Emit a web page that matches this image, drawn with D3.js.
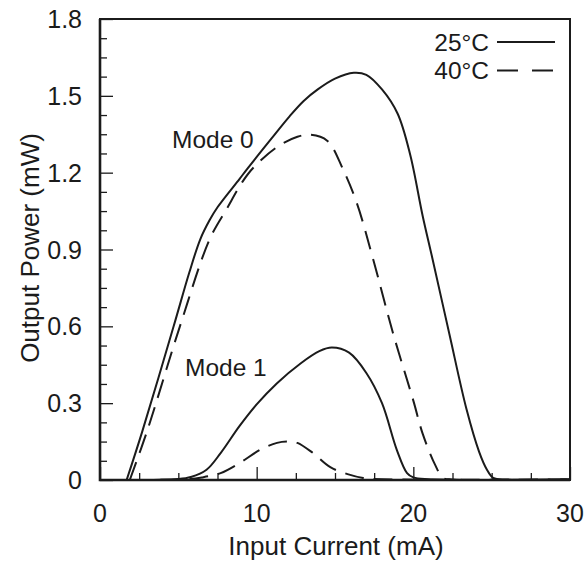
<!DOCTYPE html>
<html>
<head>
<meta charset="utf-8">
<script src="https://cdn.jsdelivr.net/npm/d3@7/dist/d3.min.js"></script>
<style>
  html, body { margin: 0; padding: 0; background: #fff; }
  svg { display: block; font-family: "Liberation Sans", Arial, Helvetica, sans-serif; }
</style>
</head>
<body>
<svg id="chart" width="585" height="562"></svg>
<script>
// Output power vs. input current for modes 0 and 1 at two temperatures
const mode0At25Current = [1.7, 2.7, 4.7, 5.7, 6.4, 7.0, 7.5, 8.9, 9.4, 10.9, 12.1, 13.0, 13.9, 15.0, 16.2, 17.0, 18.0, 19.0, 19.8, 20.6, 21.2, 22.3, 23.4, 24.2, 24.7, 25.1, 26.0, 30.0];
const mode0At25Power   = [0.0, 0.19, 0.6, 0.81, 0.94, 1.015, 1.065, 1.175, 1.215, 1.33, 1.42, 1.48, 1.525, 1.567, 1.59, 1.582, 1.525, 1.43, 1.27, 1.03, 0.87, 0.57, 0.275, 0.11, 0.04, 0.008, 0.002, 0.002];

const mode0At40Current = [1.9, 3.0, 5.1, 7.0, 8.1, 9.1, 9.8, 11.3, 12.6, 13.4, 14.5, 15.5, 16.4, 17.4, 18.7, 20.0, 20.6, 21.4, 21.9, 22.5, 30.0];
const mode0At40Power   = [0.0, 0.19, 0.6, 0.94, 1.06, 1.165, 1.22, 1.3, 1.34, 1.348, 1.325, 1.215, 1.08, 0.87, 0.574, 0.31, 0.18, 0.058, 0.008, 0.002, 0.002];

const mode1At25Current = [1.8, 5.0, 5.8, 6.8, 7.7, 8.9, 10.0, 11.3, 12.8, 14.0, 14.8, 15.9, 17.0, 18.0, 18.95, 19.6, 20.0, 21.0, 30.0];
const mode1At25Power   = [0.0, 0.004, 0.012, 0.04, 0.105, 0.21, 0.295, 0.378, 0.455, 0.503, 0.517, 0.497, 0.418, 0.3, 0.117, 0.027, 0.01, 0.003, 0.002];

const mode1At40Current = [2.0, 5.5, 6.5, 7.7, 8.9, 10.2, 11.3, 12.1, 12.6, 13.6, 14.7, 15.8, 16.8, 18.0, 30.0];
const mode1At40Power   = [0.0, 0.003, 0.01, 0.027, 0.066, 0.117, 0.145, 0.15, 0.145, 0.105, 0.05, 0.023, 0.008, 0.003, 0.002];

const xMajorTicks = [0, 10, 20, 30];
const yMajorTicks = [0, 0.3, 0.6, 0.9, 1.2, 1.5, 1.8];
const yTickLabels = ["0", "0.3", "0.6", "0.9", "1.2", "1.5", "1.8"];
const legendLabels = ["25°C", "40°C"];
const modeLabels = ["Mode 0", "Mode 1"];

const svg = d3.select("#chart");
const margin = { left: 100, right: 15, top: 19, bottom: 82 };
const W = 585, H = 562;

const x = d3.scaleLinear().domain([0, 30]).range([margin.left, W - margin.right]);
const y = d3.scaleLinear().domain([0, 1.8]).range([H - margin.bottom, margin.top]);

const ink = "#1b1b1b";
const dashPattern = "19,10";

svg.append("clipPath").attr("id", "plot-clip")
  .append("rect")
  .attr("x", x(0)).attr("y", y(1.8))
  .attr("width", x(30) - x(0)).attr("height", y(0) - y(1.8));

// Curves
const zip = (xs, ys) => xs.map((v, i) => [v, ys[i]]);
const line = d3.line().x(d => x(d[0])).y(d => y(d[1])).curve(d3.curveCatmullRom.alpha(0.5));

const series = [
  { pts: zip(mode0At25Current, mode0At25Power), dash: null },
  { pts: zip(mode0At40Current, mode0At40Power), dash: dashPattern },
  { pts: zip(mode1At25Current, mode1At25Power), dash: null },
  { pts: zip(mode1At40Current, mode1At40Power), dash: dashPattern }
];

svg.append("g").attr("clip-path", "url(#plot-clip)")
  .selectAll("path").data(series).join("path")
  .attr("d", d => line(d.pts))
  .attr("fill", "none")
  .attr("stroke", ink)
  .attr("stroke-width", 2)
  .attr("stroke-dasharray", d => d.dash);

// Inward ticks: majors with labels, unlabeled minors
const xAxis = d3.axisTop(x)
  .tickValues(d3.range(0, 30.01, 2.5))
  .tickSize(7)
  .tickFormat("");
const gx = svg.append("g").attr("transform", `translate(0,${y(0)})`).call(xAxis);
gx.select(".domain").remove();
gx.selectAll(".tick line")
  .attr("stroke", ink).attr("stroke-width", 1.3)
  .attr("y2", d => (Math.abs(d % 10) < 1e-6 ? -13 : -7));

const yAxis = d3.axisRight(y)
  .tickValues(d3.range(0, 1.8001, 0.075))
  .tickSize(7)
  .tickFormat("");
const gy = svg.append("g").attr("transform", `translate(${x(0)},0)`).call(yAxis);
gy.select(".domain").remove();
gy.selectAll(".tick line")
  .attr("stroke", ink).attr("stroke-width", 1.3)
  .attr("x2", (d, i) => (i % 4 === 0 ? 13 : 7));

// Frame
svg.append("rect")
  .attr("x", x(0)).attr("y", y(1.8))
  .attr("width", x(30) - x(0)).attr("height", y(0) - y(1.8))
  .attr("fill", "none").attr("stroke", ink).attr("stroke-width", 2);
svg.append("path")
  .attr("d", `M${x(0)},${y(1.8)}V${y(0)}H${x(30)}`)
  .attr("fill", "none").attr("stroke", ink).attr("stroke-width", 2.6);

// Tick labels
const labelSize = 25;
svg.append("g").selectAll("text").data(xMajorTicks).join("text")
  .attr("x", d => x(d)).attr("y", 522)
  .attr("text-anchor", "middle")
  .attr("font-size", labelSize).attr("fill", ink)
  .text(d => d);

svg.append("g").selectAll("text").data(yMajorTicks).join("text")
  .attr("x", 82).attr("y", d => y(d))
  .attr("dy", "0.36em")
  .attr("text-anchor", "end")
  .attr("font-size", labelSize).attr("fill", ink)
  .text((d, i) => yTickLabels[i]);

// Axis titles
svg.append("text")
  .attr("x", 336).attr("y", 555)
  .attr("text-anchor", "middle")
  .attr("font-size", 26).attr("fill", ink)
  .text("Input Current (mA)");

svg.append("text")
  .attr("transform", `translate(39,${248}) rotate(-90)`)
  .attr("text-anchor", "middle")
  .attr("font-size", 26).attr("fill", ink)
  .text("Output Power (mW)");

// Mode annotations
svg.append("text").attr("x", 172).attr("y", 148)
  .attr("font-size", 24.5).attr("fill", ink).text(modeLabels[0]);
svg.append("text").attr("x", 185).attr("y", 376)
  .attr("font-size", 24.5).attr("fill", ink).text(modeLabels[1]);

// Legend
const legend = svg.append("g");
[0, 1].forEach(i => {
  const ly = 42 + i * 28.5;
  legend.append("text")
    .attr("x", 489).attr("y", ly + 8.5)
    .attr("text-anchor", "end")
    .attr("font-size", 24.5).attr("fill", ink)
    .text(legendLabels[i]);
  legend.append("line")
    .attr("x1", 497).attr("x2", 555)
    .attr("y1", ly).attr("y2", ly)
    .attr("stroke", ink).attr("stroke-width", 2)
    .attr("stroke-dasharray", i === 1 ? "21,14" : null);
});
</script>
</body>
</html>
